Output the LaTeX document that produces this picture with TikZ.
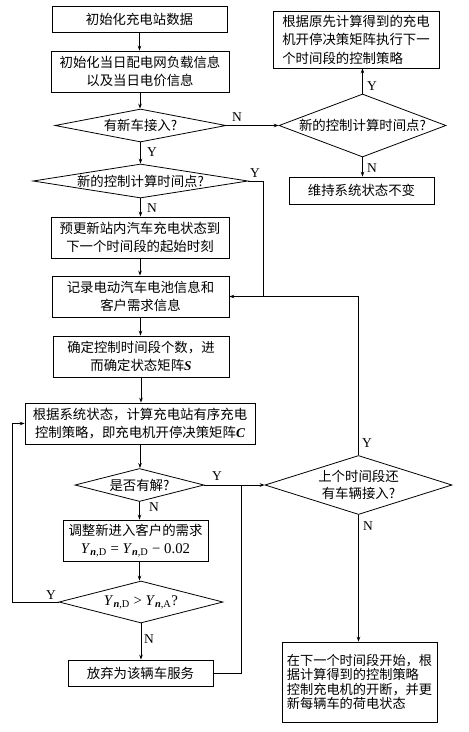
\documentclass[tikz,border=0pt]{standalone}
\usepackage{fontspec}
\setmainfont{Liberation Serif}
\newfontfamily\cjk{Noto Sans CJK SC}
\usetikzlibrary{shapes.geometric,arrows.meta}
\newcommand{\myY}[1]{\textit{Y}\textsubscript{\textbf{\textit{n}},#1}}
\begin{document}
\begin{tikzpicture}[x=1pt,y=-1pt,line width=0.8pt,
  box/.style={draw, rectangle, inner sep=0pt, font=\cjk\fontsize{13.4}{17.5}\selectfont, align=center},
  dia/.style={draw, diamond, inner sep=0pt},
  dtxt/.style={inner sep=0pt, font=\cjk\fontsize{13.4}{17.5}\selectfont, align=center},
  lab/.style={inner sep=0pt, font=\fontsize{13.5}{14}\selectfont},
  arr/.style={-{Stealth[length=5pt,width=3.6pt]}}]
\useasboundingbox (0,0) rectangle (469,732);
% left column boxes
\node[box, minimum width=175pt, minimum height=26pt] (b1) at (139.5,19) {初始化充电站数据};
\node[box, minimum width=178pt, minimum height=41pt] (b2) at (140,71.5) {初始化当日配电网负载信息\\以及当日电价信息};
\node[dia, minimum width=171pt, minimum height=33pt] (d1) at (140.5,125.5) {};
\node[dtxt] (d1t) at (d1) {有新车接入?};
\node[dia, minimum width=215pt, minimum height=34pt] (d2) at (140.5,181) {};
\node[dtxt] (d2t) at (d2) {新的控制计算时间点?};
\node[box, minimum width=178pt, minimum height=41pt] (b3) at (140,237.5) {预更新站内汽车充电状态到\\下一个时间段的起始时刻};
\node[box, minimum width=177pt, minimum height=41pt] (b4) at (140.5,296.5) {记录电动汽车电池信息和\\客户需求信息};
\node[box, minimum width=176pt, minimum height=41pt] (b5) at (141,356.5) {确定控制时间段个数，进\\而确定状态矩阵{\rmfamily\bfseries\itshape S}};
\node[box, minimum width=230pt, minimum height=41pt] (b6) at (140,423.5) {根据系统状态，计算充电站有序充电\\控制策略，即充电机开停决策矩阵{\rmfamily\bfseries\itshape C}};
\node[dia, minimum width=129pt, minimum height=33pt] (d3) at (139.5,485) {};
\node[dtxt] (d3t) at (d3) {是否有解?};
\node[box, minimum width=145pt, minimum height=41pt] (b7) at (135.5,540.5) {调整新进入客户的需求\\{\rmfamily\fontsize{14.8}{17.5}\selectfont \myY{D} = \myY{D} − 0.02}};
\node[dia, minimum width=164pt, minimum height=42pt] (d4) at (141,602) {};
\node[dtxt] (d4t) at (d4) {\rmfamily\fontsize{14.8}{17.5}\selectfont \myY{D} > \myY{A}?};
\node[box, minimum width=145pt, minimum height=26pt] (b8) at (140.5,673) {放弃为该辆车服务};
% right column
\node[box, minimum width=166pt, minimum height=57pt, align=left, font=\cjk\fontsize{13.4}{18.5}\selectfont] (b10) at (356,39.5) {根据原先计算得到的充电\\机开停决策矩阵执行下一\\个时间段的控制策略};
\node[dia, minimum width=167pt, minimum height=63pt] (d6) at (362.5,125.5) {};
\node[dtxt] (d6t) at (d6) {新的控制计算时间点?};
\node[box, minimum width=145pt, minimum height=27pt] (b11) at (361.5,190.5) {维持系统状态不变};
\node[dia, minimum width=187pt, minimum height=59pt] (d5) at (358.5,485) {};
\node[dtxt] (d5t) at (d5) {上个时间段还\\有车辆接入?};
\node[box, minimum width=155pt, minimum height=80pt, align=left, font=\cjk\fontsize{13.2}{14.6}\selectfont] (b9) at (359.5,682) {在下一个时间段开始，根\\据计算得到的控制策略\\控制充电机的开断，并更\\新每辆车的荷电状态};
% helper coordinates
\coordinate (lp) at (12,0);
\coordinate (rx) at (241,0);
\coordinate (ry) at (263,0);
% connectors
\draw[arr] (b1.south) -- (b1.south |- b2.north);
\draw[arr] (b2.south) -- (b2.south |- d1.north);
\draw[arr] (d1.south) -- (d1.south |- d2.north);
\draw[arr] (d2.south) -- (d2.south |- b3.north);
\draw[arr] (b3.south) -- (b3.south |- b4.north);
\draw[arr] (b4.south) -- (b4.south |- b5.north);
\draw[arr] (b5.south) -- (b5.south |- b6.north);
\draw[arr] (b6.south) -- (b6.south |- d3.north);
\draw[arr] (d3.south) -- (d3.south |- b7.north);
\draw[arr] (d3.south |- b7.south) -- (d3.south |- d4.north);
\draw[arr] (d4.south) -- (d4.south |- b8.north);
\draw[arr] (d4.west) -- (d4.west -| lp) -- (lp |- b6.west) -- (b6.west);
\draw (b8.east) -- (b8.east -| rx) -- (rx |- d3.east);
\draw[arr] (d3.east) -- (d5.west);
\draw[arr] (d5.north) -- (d5.north |- b4.east) -- (b4.east);
\draw (d2.east) -- (d2.east -| ry) -- (ry |- b4.east);
\draw[arr] (d5.south) -- (d5.south |- b9.north);
\draw[arr] (d1.east) -- (d6.west);
\draw[arr] (d6.north) -- (d6.north |- b10.south);
\draw[arr] (d6.south) -- (d6.south |- b11.north);
% labels
\node[lab] (l1) at (152,152) {Y};
\node[lab] (l2) at (237,117) {N};
\node[lab] (l3) at (255,173) {Y};
\node[lab] (l4) at (152,208) {N};
\node[lab] (l5) at (372,86) {Y};
\node[lab] (l6) at (372,168) {N};
\node[lab] (l7) at (217,476) {Y};
\node[lab] (l8) at (154,507) {N};
\node[lab] (l9) at (51,595) {Y};
\node[lab] (l10) at (149,639) {N};
\node[lab] (l11) at (367,443) {Y};
\node[lab] (l12) at (368,526) {N};
\end{tikzpicture}
\end{document}
